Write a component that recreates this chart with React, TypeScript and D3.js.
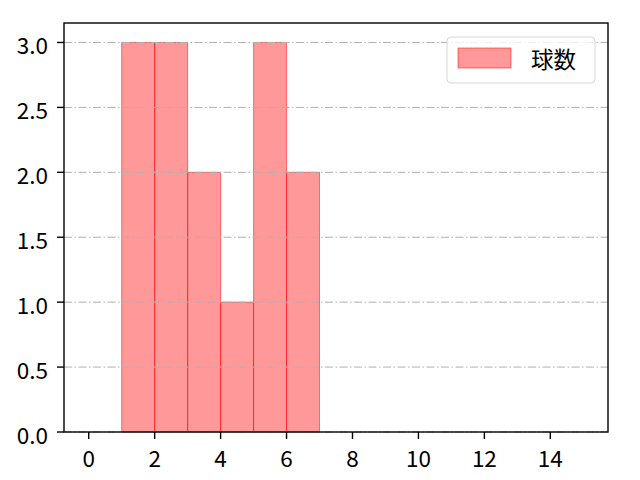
import React from 'react';
import * as d3 from 'd3';

// histogram bins (left edge, right edge) and counts
const binStarts = [1, 2, 3, 4, 5, 6];
const binEnds = [2, 3, 4, 5, 6, 7];
const counts = [3, 3, 2, 1, 3, 2];
const xTicks = [0, 2, 4, 6, 8, 10, 12, 14];
const yTicks = [0, 0.5, 1.0, 1.5, 2.0, 2.5, 3.0];
const seriesName = '球数';

const width = 640;
const height = 480;
const marginLeft = 64;
const marginRight = 32;
const marginTop = 23;
const marginBottom = 48;
const font = '"Noto Sans CJK JP", "DejaVu Sans", sans-serif';
const tickLen = 7;
const fontSize = 22.5;

const App: React.FC = () => {
	const x = d3.scaleLinear().domain([-0.75, 15.75]).range([marginLeft, width - marginRight]);
	const y = d3.scaleLinear().domain([0, 3.15]).range([height - marginBottom, marginTop]);

	const legendX = 447;
	const legendY = 37;

	return (
		<svg width={width} height={height} style={{ position: 'absolute', left: 0, top: 0 }}>
			<rect width={width} height={height} fill="#fff" />
			{/* bars */}
			{counts.map((c, i) => (
				<rect
					key={i}
					x={x(binStarts[i])}
					y={y(c)}
					width={x(binEnds[i]) - x(binStarts[i])}
					height={y(0) - y(c)}
					fill="#ff0000"
					fillOpacity={0.4}
					stroke="#ff0000"
					strokeOpacity={0.5}
					strokeWidth={1}
				/>
			))}
			{/* grid on top */}
			{yTicks.map(t => (
				<line
					key={t}
					x1={marginLeft}
					x2={width - marginRight}
					y1={y(t)}
					y2={y(t)}
					stroke="#b0b0b0"
					strokeWidth={1}
					strokeDasharray="8,2.5,1.5,2.5"
				/>
			))}
			{/* frame */}
			<rect
				x={marginLeft}
				y={marginTop}
				width={width - marginLeft - marginRight}
				height={height - marginTop - marginBottom}
				fill="none"
				stroke="#000"
				strokeWidth={1.4}
			/>
			{/* x axis */}
			{xTicks.map(t => (
				<g key={t} transform={`translate(${x(t)},${y(0)})`}>
					<line y2={tickLen} stroke="#000" strokeWidth={1.4} />
					<text y={25} textAnchor="middle" dominantBaseline="central" fontFamily={font} fontSize={fontSize}>{t}</text>
				</g>
			))}
			{/* y axis */}
			{yTicks.map(t => (
				<g key={t} transform={`translate(${marginLeft},${y(t)})`}>
					<line x2={-tickLen} stroke="#000" strokeWidth={1.4} />
					<text x={-16} y={1.5} textAnchor="end" dominantBaseline="central" fontFamily={font} fontSize={fontSize}>{t.toFixed(1)}</text>
				</g>
			))}
			{/* legend */}
			<rect x={legendX} y={legendY} width={148} height={46} rx={4} fill="#fff" fillOpacity={0.8} stroke="#d6d6d6" strokeWidth={1} />
			<rect x={legendX + 11} y={legendY + 11} width={53} height={20} fill="#ff0000" fillOpacity={0.4} stroke="#ff0000" strokeOpacity={0.5} />
			<text x={legendX + 84} y={legendY + 21} dominantBaseline="central" fontFamily={font} fontSize={fontSize}>{seriesName}</text>
		</svg>
	);
};

export default App;
